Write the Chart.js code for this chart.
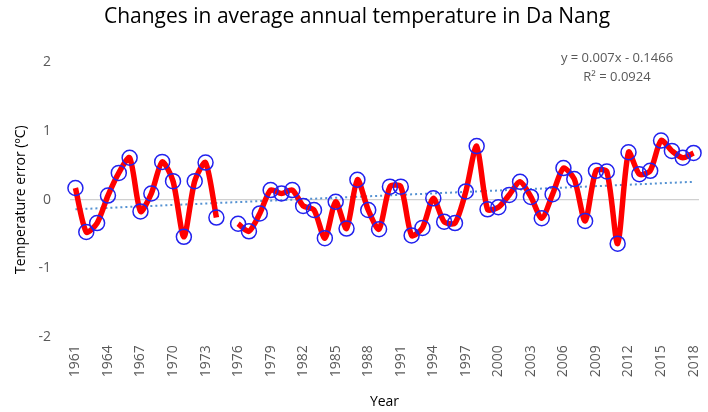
<!DOCTYPE html>
<html>
<head>
<meta charset="utf-8">
<script src="https://cdn.jsdelivr.net/npm/chart.js@4/dist/chart.umd.min.js"></script>
<style>
  html, body { margin: 0; padding: 0; background: #fff; }
  #wrap { width: 708px; height: 412px; }
</style>
</head>
<body>
<div id="wrap"><canvas id="c" width="708" height="412"></canvas></div>
<script>
const years = [
  '1961','1962','1963','1964','1965','1966','1967','1968','1969','1970',
  '1971','1972','1973','1974','1975','1976','1977','1978','1979','1980',
  '1981','1982','1983','1984','1985','1986','1987','1988','1989','1990',
  '1991','1992','1993','1994','1995','1996','1997','1998','1999','2000',
  '2001','2002','2003','2004','2005','2006','2007','2008','2009','2010',
  '2011','2012','2013','2014','2015','2016','2017','2018'
];
// 1975 has no value in the source
const tempError = [
  0.17, -0.47, -0.34, 0.06, 0.39, 0.61, -0.17, 0.09, 0.55, 0.27,
  -0.54, 0.27, 0.54, -0.26, null, -0.35, -0.46, -0.20, 0.14, 0.09,
  0.14, -0.09, -0.15, -0.56, -0.03, -0.42, 0.29, -0.15, -0.43, 0.19,
  0.19, -0.52, -0.41, 0.02, -0.32, -0.34, 0.12, 0.78, -0.14, -0.11,
  0.07, 0.26, 0.04, -0.27, 0.08, 0.46, 0.30, -0.31, 0.42, 0.41,
  -0.64, 0.69, 0.37, 0.42, 0.86, 0.71, 0.61, 0.68
];
const trendYears = ['1961', '2018'];
const trendValues = [-0.14, 0.26];
const yTicks = [-2, -1, 0, 1, 2];
const trendLabel = ['y = 0.007x - 0.1466', 'R\u00b2 = 0.0924'];

const FONT = "'Open Sans', sans-serif";

const eqText = {
  id: 'eqText',
  afterDraw(chart) {
    const ctx = chart.ctx;
    ctx.save();
    ctx.fillStyle = '#595959';
    ctx.font = '13px ' + FONT;
    ctx.textAlign = 'center';
    ctx.textBaseline = 'middle';
    ctx.fillText(trendLabel[0], 617, 58);
    ctx.fillText(trendLabel[1], 617, 77);
    ctx.restore();
  }
};

new Chart(document.getElementById('c'), {
  type: 'line',
  data: {
    labels: years,
    datasets: [
      {
        label: 'Temperature error',
        data: tempError,
        borderColor: '#ff0000',
        borderWidth: 5.5,
        tension: 0.25,
        spanGaps: false,
        pointRadius: 7.5,
        pointBorderColor: '#2222ee',
        pointBackgroundColor: 'rgba(0,0,0,0)',
        pointBorderWidth: 1.5,
        order: 1
      },
      {
        label: 'Trend',
        data: trendYears.map((y, i) => ({ x: y, y: trendValues[i] })),
        borderColor: '#5592d2',
        borderWidth: 2,
        borderDash: [2, 3],
        pointRadius: 0,
        order: 2
      }
    ]
  },
  options: {
    responsive: false,
    animation: false,
    layout: { padding: { left: 13, right: 7, top: 0, bottom: 2 } },
    plugins: {
      legend: { display: false },
      tooltip: { enabled: false },
      title: {
        display: true,
        text: 'Changes in average annual temperature in Da Nang',
        color: '#000',
        font: { family: FONT, size: 21, weight: 'normal' },
        padding: { top: 4, bottom: 33 }
      }
    },
    scales: {
      x: {
        type: 'category',
        offset: true,
        border: { display: false },
        grid: { display: false, drawTicks: false },
        afterFit(scale) { scale.paddingRight = 0; scale.paddingLeft = 0; },
        ticks: {
          autoSkip: false,
          minRotation: 90,
          maxRotation: 90,
          padding: 8,
          color: '#595959',
          font: { family: FONT, size: 14 },
          callback: function (v, i) { return i % 3 === 0 ? years[i] : ''; }
        },
        title: {
          display: true,
          text: 'Year',
          color: '#000',
          font: { family: FONT, size: 14 },
          padding: { top: 8, bottom: 0 }
        }
      },
      y: {
        min: -2,
        max: 2,
        border: { display: false },
        afterBuildTicks(scale) { scale.ticks = yTicks.map(v => ({ value: v })); },
        afterFit(scale) { scale.width = 57; },
        grid: {
          drawTicks: false,
          color: ctx => (ctx.tick && ctx.tick.value === 0 ? '#d0d0d0' : 'rgba(0,0,0,0)'),
          lineWidth: 1.2
        },
        ticks: {
          padding: 19,
          color: '#595959',
          font: { family: FONT, size: 14 }
        },
        title: {
          display: true,
          text: 'Temperature error (\u00baC)',
          color: '#000',
          font: { family: FONT, size: 14 },
          padding: { top: 0, bottom: 4 }
        }
      }
    }
  },
  plugins: [eqText]
});
</script>
</body>
</html>
